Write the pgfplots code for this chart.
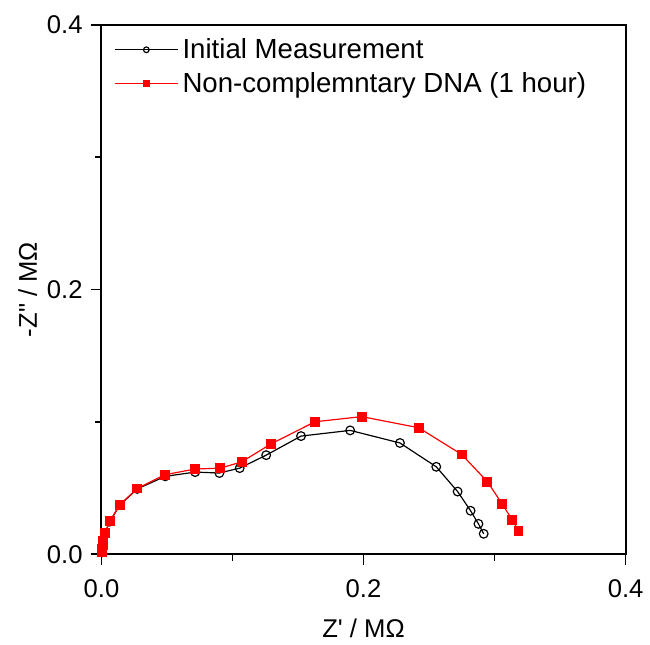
\documentclass[border=0pt]{standalone}
\usepackage{pgfplots}
\pgfplotsset{compat=1.18}
\usepackage{fontspec}
\setmainfont{Liberation Sans}
\begin{document}
\begin{tikzpicture}
\begin{axis}[
 scale only axis, width=264.75bp, height=267.5bp,
 xmin=0, xmax=0.4, ymin=0, ymax=0.4,
 xtick=\empty, ytick=\empty,
 axis line style={black, line width=1bp},
]
\addplot[draw=none] coordinates {(0,0) (0.4,0.4)};
\end{axis}
\begin{axis}[
 scale only axis, width=264.75bp, height=267.5bp,
 clip=false,
 xmin=0, xmax=0.4, ymin=0, ymax=0.4,
 xtick={0,0.2,0.4}, ytick={0,0.2,0.4},
 xticklabels={0.0,0.2,0.4}, yticklabels={0.0,0.2,0.4},
 minor tick num=1,
 xtick pos=bottom, ytick pos=left, tick align=outside,
 major tick length=5.5bp, minor tick length=3.2bp,
 every tick/.style={black, line width=0.9bp},
 axis line style={black, line width=0.9bp},
 ticklabel style={font=\fontsize{13}{15}\selectfont},
 xticklabel style={yshift=-4bp},
 yticklabel style={xshift=-0.5bp},
 xlabel={Z\textquotesingle\ / MΩ},
 ylabel={-Z\textquotedbl\ / MΩ},
 label style={font=\fontsize{13}{15}\selectfont},
 xlabel style={at={(axis description cs:0.5,-0.14)}, anchor=center},
 ylabel style={at={(axis description cs:-0.1407,0.5)}, anchor=center, rotate=0},
 legend style={draw=none, fill=none, at={(rel axis cs:0.012,0.99)}, anchor=north west,
   font=\fontsize{14}{16}\selectfont, row sep=1.5bp},
 legend cell align=left,
 legend image code/.code={\draw[mark repeat=2,mark phase=2, every mark/.append style={scale=0.65}] plot coordinates {(0bp,0bp)(16bp,0bp)(32bp,0bp)};},
]
\draw[line width=0.9bp, black] (axis cs:0,0.4) -- (axis cs:0.4,0.4) -- (axis cs:0.4,0);
\addplot[black, line width=0.6bp, mark=o, mark size=2.2bp, mark options={line width=0.6bp, fill=white}] coordinates {
(0.0005,0.0015) (0.0007,0.004) (0.0009,0.007) (0.0011,0.0100) (0.0026,0.0160) (0.0064,0.0247)
(0.0140,0.0372) (0.0273,0.0494) (0.0487,0.0589) (0.0715,0.0621) (0.0900,0.0614)
(0.1055,0.0651) (0.1257,0.0749) (0.1523,0.0893) (0.1898,0.0936) (0.2278,0.0841)
(0.2555,0.0661) (0.2718,0.0474) (0.2817,0.0329) (0.2877,0.0230) (0.2917,0.0155)
};
\addlegendentry{Initial Measurement}
\addplot[red, line width=0.6bp, mark=square*, mark size=2.2bp, mark options={fill=red, draw=red}] coordinates {
(0.0005,0.0015) (0.0007,0.004) (0.0009,0.007) (0.0011,0.0100) (0.0026,0.0162) (0.0064,0.0250)
(0.0140,0.0375) (0.0273,0.0497) (0.0482,0.0601) (0.0715,0.0644) (0.0907,0.0651)
(0.1070,0.0698) (0.1292,0.0833) (0.1629,0.1001) (0.1986,0.1040) (0.2421,0.0956)
(0.2749,0.0754) (0.2945,0.0549) (0.3060,0.0377) (0.3134,0.0262) (0.3183,0.0177)
};
\addlegendentry{Non-complemntary DNA (1 hour)}
\path (rel axis cs:-0.1936,-0.1645) rectangle (rel axis cs:1.034,1.0467);
\end{axis}
\end{tikzpicture}
\end{document}
